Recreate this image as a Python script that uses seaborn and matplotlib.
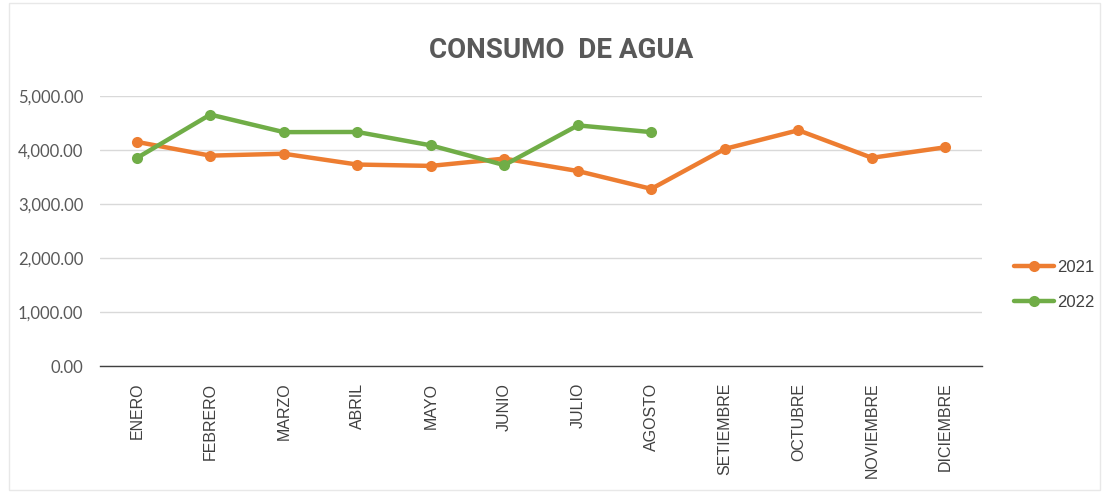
import pandas as pd
import matplotlib.pyplot as plt
import seaborn as sns

meses = ['ENERO', 'FEBRERO', 'MARZO', 'ABRIL', 'MAYO', 'JUNIO', 'JULIO',
         'AGOSTO', 'SETIEMBRE', 'OCTUBRE', 'NOVIEMBRE', 'DICIEMBRE']
consumo_2021 = [4150, 3895, 3930, 3730, 3705, 3840, 3610, 3280, 4020, 4365, 3855, 4050]
consumo_2022 = [3850, 4655, 4330, 4333, 4085, 3720, 4455, 4330]
anios = ['2021', '2022']
colores = ['#ED7D31', '#70AD47']

df = pd.concat([
    pd.DataFrame({'mes': meses, 'valor': consumo_2021, 'anio': anios[0]}),
    pd.DataFrame({'mes': meses[:len(consumo_2022)], 'valor': consumo_2022, 'anio': anios[1]}),
])

sns.set_theme(style='white')
plt.rcParams['font.family'] = ['Liberation Sans', 'DejaVu Sans']

fig = plt.figure(figsize=(11.04, 4.92), dpi=100)
ax = fig.add_axes([0.0906, 0.256, 0.799, 0.549])

sns.lineplot(data=df, x='mes', y='valor', hue='anio', palette=colores,
             marker='o', markersize=8, markeredgewidth=0, linewidth=3.2,
             sort=False, ax=ax)

ax.set_xlim(-0.5, len(meses) - 0.5)
ax.set_ylim(0, 5000)
ax.set_yticks(range(0, 5001, 1000))
ax.set_yticklabels([f'{v:,.2f}' for v in range(0, 5001, 1000)],
                   fontsize=12, color='#595959', family=['Lato', 'DejaVu Sans'])
ax.set_xticks(range(len(meses)))
ax.set_xticklabels(meses, rotation=90, fontsize=11.5, color='#404040')
ax.tick_params(axis='y', length=0, pad=12)
ax.tick_params(axis='x', length=0, pad=12)
ax.yaxis.grid(True, color='#D9D9D9', linewidth=1)
ax.set_axisbelow(True)
for s in ['top', 'right', 'left']:
    ax.spines[s].set_visible(False)
ax.spines['bottom'].set_color('#404040')
ax.spines['bottom'].set_linewidth(1)
ax.set_xlabel('')
ax.set_ylabel('')

fig.text(0.508, 0.897, 'CONSUMO  DE AGUA', ha='center', va='center',
         fontsize=20, fontweight='bold', color='#595959',
         family=['Roboto', 'DejaVu Sans'])

ax.legend(loc='center left', bbox_to_anchor=(1.019, 0.3), frameon=False,
          fontsize=12, labelcolor='#404040', handlelength=2.4,
          labelspacing=1.2, handletextpad=0.2)

fig.patches.append(plt.Rectangle((0.008, 0.004), 0.988, 0.99, transform=fig.transFigure,
                                 fill=False, edgecolor='#E8E8E8', linewidth=1))

fig.savefig('out.png', dpi=100)
